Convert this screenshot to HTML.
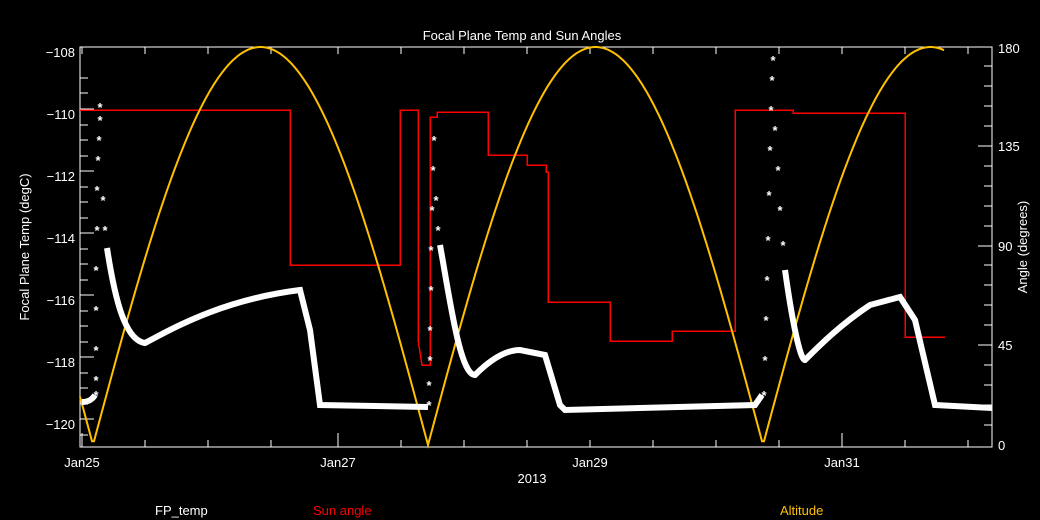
<!DOCTYPE html><html><head><style>body{margin:0;background:#000}svg{display:block}text{font-family:"Liberation Sans",sans-serif;font-size:13px}</style></head><body>
<svg width="1040" height="520" viewBox="0 0 1040 520">
<rect width="1040" height="520" fill="#000"/>
<text x="522" y="40" fill="#fff" text-anchor="middle" font-size="14">Focal Plane Temp and Sun Angles</text>
<g stroke="#fff" stroke-width="1.3" fill="none" shape-rendering="crispEdges">
<rect x="80" y="47" width="912" height="400"/>
<path d="M80 78h8M80 93h8M80 109h14M80 125h8M80 140h8M80 156h8M80 171h14M80 187h8M80 202h8M80 218h8M80 233h14M80 249h8M80 264h8M80 280h8M80 295h14M80 311h8M80 326h8M80 342h8M80 357h14M80 373h8M80 388h8M80 404h8M80 419h14M80 435h8"/>
<path d="M992 425h-8M992 405h-8M992 385h-8M992 365h-8M992 345h-14M992 325h-8M992 305h-8M992 285h-8M992 265h-8M992 246h-14M992 226h-8M992 206h-8M992 186h-8M992 166h-8M992 146h-14M992 126h-8M992 106h-8M992 86h-8M992 66h-8"/>
<path d="M82 447v-14M145 447v-7M208 447v-7M271 447v-7M338 447v-14M401 447v-7M464 447v-7M527 447v-7M590 447v-7M653 447v-7M716 447v-7M779 447v-7M842 447v-14M905 447v-7M968 447v-7M82 47v7M145 47v7M208 47v7M271 47v7M338 47v7M401 47v7M464 47v7M527 47v7M590 47v7M653 47v7M716 47v7M779 47v7M842 47v7M905 47v7M968 47v7"/>
</g>
<g fill="#fff" text-anchor="end">
<text x="75" y="57">−108</text><text x="75" y="119">−110</text><text x="75" y="181">−112</text><text x="75" y="243">−114</text><text x="75" y="305">−116</text><text x="75" y="367">−118</text><text x="75" y="429">−120</text>
</g>
<g fill="#fff">
<text x="998" y="450">0</text><text x="998" y="350">45</text><text x="998" y="251">90</text><text x="998" y="151">135</text><text x="998" y="53">180</text>
</g>
<g fill="#fff" text-anchor="middle">
<text x="82" y="467">Jan25</text><text x="338" y="467">Jan27</text><text x="590" y="467">Jan29</text><text x="842" y="467">Jan31</text>
<text x="532" y="483">2013</text>
</g>
<text transform="translate(29 247) rotate(-90)" fill="#fff" text-anchor="middle">Focal Plane Temp (degC)</text>
<text transform="translate(1027 247) rotate(-90)" fill="#fff" text-anchor="middle">Angle (degrees)</text>
<path d="M80 110H290V265H400V110H418V340L422 365H430V117H437V112H488V155H527V165H546V172H548V302H610V341H672V331H735V110H793V113H905V337H945" stroke="#f00" stroke-width="1.5" fill="none" shape-rendering="crispEdges"/>
<polyline id="alt" fill="none" stroke="#ffc000" stroke-width="2" points=""/>
<path d="M82 402 C88 402 92 400 95 395 M107 248 C115 300 125 340 145 343 C170 330 220 300 300 290 L310 330 L320 405 L428 407 M440 245 C450 300 460 375 475 375 C490 360 505 350 520 350 L545 355 L560 405 L565 410 L755 405 L762 395 M785 270 C792 320 800 360 805 360 C820 345 840 325 870 305 L900 297 L915 320 L935 405 L992 408" stroke="#fff" stroke-width="6" fill="none"/>
<g fill="#fff" font-size="14" font-weight="bold" text-anchor="middle">
<text x="96" y="400">*</text><text x="96" y="385">*</text><text x="96" y="355">*</text><text x="96" y="315">*</text><text x="96" y="275">*</text><text x="97" y="235">*</text><text x="97" y="195">*</text><text x="98" y="165">*</text><text x="99" y="145">*</text><text x="100" y="125">*</text><text x="100" y="112">*</text><text x="103" y="205">*</text><text x="105" y="235">*</text>
<text x="429" y="410">*</text><text x="429" y="390">*</text><text x="430" y="365">*</text><text x="430" y="335">*</text><text x="431" y="295">*</text><text x="431" y="255">*</text><text x="432" y="215">*</text><text x="433" y="175">*</text><text x="434" y="145">*</text><text x="436" y="205">*</text><text x="438" y="235">*</text>
<text x="764" y="400">*</text><text x="765" y="365">*</text><text x="766" y="325">*</text><text x="767" y="285">*</text><text x="768" y="245">*</text><text x="769" y="200">*</text><text x="770" y="155">*</text><text x="771" y="115">*</text><text x="772" y="85">*</text><text x="773" y="65">*</text><text x="775" y="135">*</text><text x="778" y="175">*</text><text x="780" y="215">*</text><text x="783" y="250">*</text>
</g>
<text x="155" y="515" fill="#fff">FP_temp</text>
<text x="313" y="515" fill="#f00">Sun angle</text>
<text x="780" y="515" fill="#ffc000">Altitude</text>
<script>
var p=[];for(var x=80;x<=945;x+=2){p.push(x+","+(445-398*Math.abs(Math.sin(Math.PI*(x-93)/335))).toFixed(1));}
document.getElementById("alt").setAttribute("points",p.join(" "));
</script>
</svg></body></html>
